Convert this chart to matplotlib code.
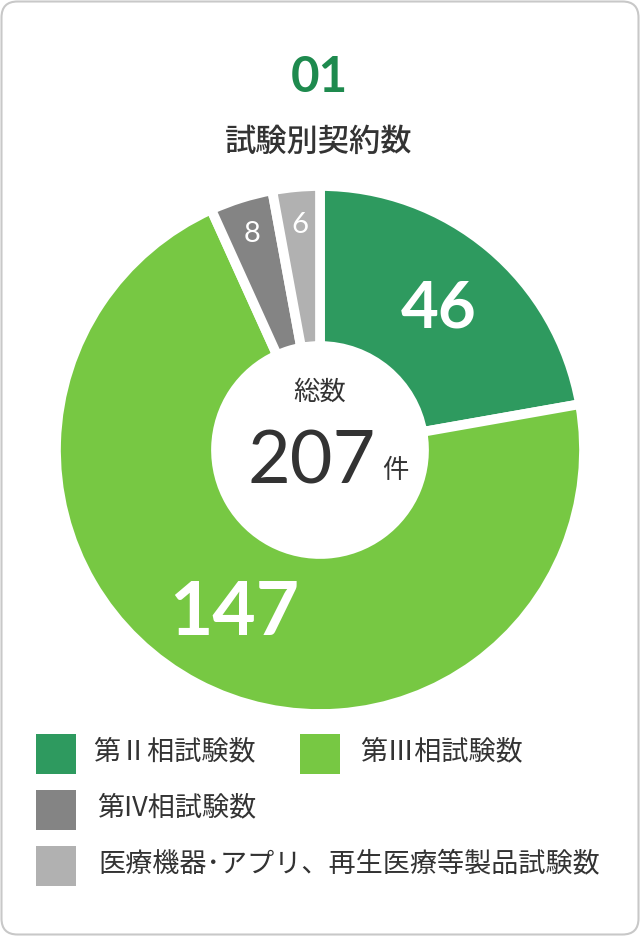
import numpy as np
import matplotlib.pyplot as plt
from matplotlib.patches import FancyBboxPatch, Rectangle

# データ
values = [46, 147, 8, 6]
labels = ["第Ⅱ相試験数", "第Ⅲ相試験数", "第IV相試験数", "医療機器･アプリ、再生医療等製品試験数"]
colors = ["#2e9a5f", "#77c843", "#848484", "#b1b1b1"]
total = sum(values)

num_title = "01"
title = "試験別契約数"
center_label = "総数"
unit = "件"

jp = ["Noto Sans CJK JP", "DejaVu Sans"]
num = ["Lato", "DejaVu Sans"]
dark = "#333333"

W, H = 640, 936
fig = plt.figure(figsize=(W / 100, H / 100), dpi=100)

# 背景のレイヤー (ピクセル座標)
bg = fig.add_axes([0, 0, 1, 1])
bg.set_xlim(0, W)
bg.set_ylim(H, 0)
bg.axis("off")
bg.add_patch(FancyBboxPatch((1.5, 1.5), W - 3, H - 3,
                            boxstyle="round,pad=0,rounding_size=16",
                            facecolor="white", edgecolor="#c8c8c8", linewidth=1.5))

bg.text(319, 92, num_title, ha="center", va="baseline", fontsize=35.5,
        fontweight="bold", color="#1e8a4e", family=num)
bg.text(319, 142, title, ha="center", va="center", fontsize=22.5,
        color=dark, family=jp, fontweight="medium")

# ドーナツ
cx, cy, R = 320, 450, 260
ax = fig.add_axes([(cx - R) / W, (H - cy - R) / H, 2 * R / W, 2 * R / H])
wedges, _ = ax.pie(values, colors=colors, startangle=90, counterclock=False,
                   radius=264 / R,
                   wedgeprops=dict(width=160 / R, edgecolor="white", linewidth=7))
ax.set_xlim(-1, 1)
ax.set_ylim(-1, 1)
ax.axis("off")

start = 0
for v in values:
    mid = start + v / 2
    ang = np.deg2rad(90 - mid / total * 360)
    share = v / total
    if share > 0.1:
        r, fs, fw = 0.71, 44 + 14 * share, "bold"
    else:
        r, fs, fw = 0.87, 21, "normal"
    ax.text(r * np.cos(ang), r * np.sin(ang), str(v), ha="center", va="center",
            fontsize=fs, fontweight=fw, color="white", family=num)
    start += v

# 中央の総数
bg.text(320, 392, center_label, ha="center", va="center", fontsize=19,
        color=dark, family=jp)
bg.text(312, 483, str(total), ha="center", va="baseline", fontsize=53,
        color=dark, family=num)
bg.text(395, 470, unit, ha="center", va="center", fontsize=19,
        color=dark, family=jp)

# 凡例
legend_pos = [(36, 734, 93), (300, 734, 360), (36, 790, 97), (36, 846, 98)]
for (sx, sy, tx), lab, col in zip(legend_pos, labels, colors):
    bg.add_patch(Rectangle((sx, sy), 40, 40, facecolor=col, edgecolor="none"))
    bg.text(tx, sy + 18, lab, ha="left", va="center", fontsize=19.5,
            color=dark, family=jp)

fig.savefig("out.png", dpi=100)
